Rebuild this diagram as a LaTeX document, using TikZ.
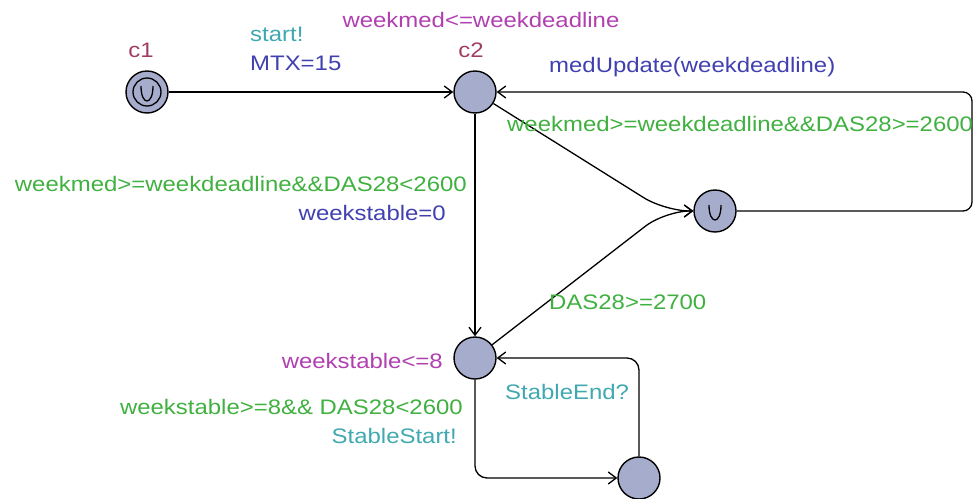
\documentclass[tikz,border=0pt]{standalone}
\usepackage{fontspec}
\setmainfont{Liberation Sans}[FakeStretch=1.14]
\usetikzlibrary{arrows.meta}
\definecolor{locfill}{RGB}{166,173,204}
\definecolor{namecol}{RGB}{160,60,100}
\definecolor{invcol}{RGB}{176,64,176}
\definecolor{synccol}{RGB}{64,168,176}
\definecolor{updcol}{RGB}{64,64,176}
\definecolor{guardcol}{RGB}{64,176,64}
\tikzstyle{loc} = [circle, draw, line width=1.4pt, fill=locfill,
    minimum size=42pt, inner sep=0pt]
\tikzstyle{lbl} = [inner sep=0pt, text height=15pt, text depth=0pt,
    font=\fontsize{21}{25}\selectfont]
\tikzstyle{line} = [draw, line width=1.3pt, -{Straight Barb[length=8pt,width=12pt]}]
\tikzstyle{umark} = [draw, line width=1.3pt]

\begin{document}
\begin{tikzpicture}[x=1pt, y=-1pt]
  \useasboundingbox (0,0) rectangle (974,498);
  % Place nodes
  \node [loc] (c1) at (147,92) {};
  \node [loc] (c2) at (475,92) {};
  \node [loc] (urg) at (715,211) {};
  \node [loc] (stable) at (475,358) {};
  \node [loc] (hold) at (639,478) {};
  \coordinate (nail) at (665,211);
  \coordinate (ret1) at (972,211);
  \coordinate (ret2) at (972,92);
  % Marks
  \draw [umark] (c1) circle (14pt);
  \path [umark] (c1.center) ++(-6,-6) .. controls +(0,20) and +(0,20) .. ++(12,0);
  \path [umark] (urg.center) ++(-6,-6) .. controls +(0,20) and +(0,20) .. ++(12,0);
  % Draw edges
  \path [line] (c1) -- (c2);
  \path [line] (c2) -- (stable);
  \path [line, rounded corners=25pt] (c2) -- (nail) -- (urg);
  \path [line, rounded corners=25pt] (stable) -- (nail) -- (urg);
  \path [line, rounded corners=9pt] (urg) -- (ret1) -- (ret2) -- (c2);
  \path [line, rounded corners=12pt] (stable) |- (hold);
  \path [line, rounded corners=12pt] (hold) |- (stable);
  % Names and invariants
  \node [lbl, text=namecol] (n1) at (141,50) {c1};
  \node [lbl, text=namecol] (n2) at (471,50) {c2};
  \node [lbl, text=invcol] (i2) at (481,20) {weekmed<=weekdeadline};
  \node [lbl, text=invcol, anchor=east] (i4) at (443,361) {weekstable<=8};
  % Labels
  \node [lbl, text=synccol, anchor=west] (s1) at (250,34) {start!};
  \node [lbl, text=updcol, anchor=west] (u1) at (250,63) {MTX=15};
  \node [lbl, text=updcol, anchor=west] (u2) at (549,65) {medUpdate(weekdeadline)};
  \node [lbl, text=guardcol, anchor=west] (g2) at (507,124) {weekmed>=weekdeadline\&\&DAS28>=2600};
  \node [lbl, text=guardcol, anchor=east] (g3) at (467,184) {weekmed>=weekdeadline\&\&DAS28<2600};
  \node [lbl, text=updcol, anchor=east] (u3) at (446,213) {weekstable=0};
  \node [lbl, text=guardcol, anchor=west] (g4) at (549,302) {DAS28>=2700};
  \node [lbl, text=guardcol, anchor=east] (g5) at (463,407) {weekstable>=8\&\& DAS28<2600};
  \node [lbl, text=synccol, anchor=east] (s5) at (457,436) {StableStart!};
  \node [lbl, text=synccol, anchor=west] (s6) at (505,392) {StableEnd?};
\end{tikzpicture}
\end{document}
